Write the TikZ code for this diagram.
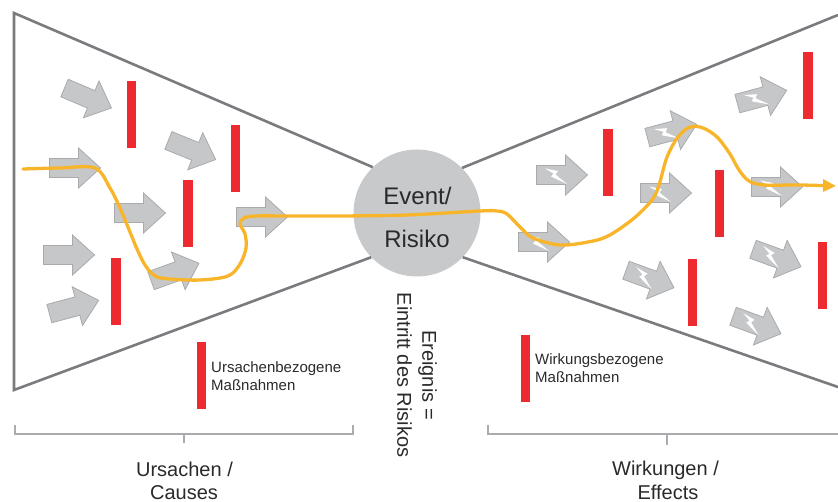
\documentclass[tikz,border=0pt]{standalone}
\usepackage{fontspec}
\setmainfont{Liberation Sans}
\usetikzlibrary{arrows.meta}
\definecolor{edgegray}{HTML}{7A7B7E}
\definecolor{arrowgray}{HTML}{C6C7C9}
\definecolor{arrowline}{HTML}{A8AAAD}
\definecolor{barred}{HTML}{EC2A2F}
\definecolor{pathyellow}{HTML}{F9B52A}
\definecolor{eventgray}{HTML}{C8C9CB}
\definecolor{txt}{HTML}{2A2A2C}
\definecolor{bracegray}{HTML}{A9ABAE}
\begin{document}
\begin{tikzpicture}[x=1pt,y=-1pt,
  bowedge/.style={draw=edgegray, line width=2.6pt, line join=miter},
  arrowbody/.style={fill=arrowgray, draw=arrowline, line width=0.8pt, line join=miter},
  redbar/.style={fill=barred, minimum width=9.5pt, minimum height=67pt, inner sep=0pt, draw=none},
  bracketline/.style={draw=bracegray, line width=1.4pt},
  riskpath/.style={draw=pathyellow, line width=3.3pt, line cap=round, line join=round},
  biglabel/.style={font=\fontsize{20}{24}\selectfont, text=txt, inner sep=0pt, anchor=base},
  eventlabel/.style={font=\fontsize{24}{28}\selectfont, text=txt, inner sep=0pt, anchor=base},
  smalllabel/.style={font=\fontsize{15}{18}\selectfont, text=txt, inner sep=0pt, anchor=base west},
  garrow/.pic={\path[arrowbody] (-25.5,-9.5) -- (3.5,-9.5) -- (3.5,-20) -- (25.5,0)
      -- (3.5,20) -- (3.5,9.5) -- (-25.5,9.5) -- cycle;},
  boltarrow/.pic={\path[arrowbody] (-25.5,-9.5) -- (3.5,-9.5) -- (3.5,-20) -- (25.5,0)
      -- (3.5,20) -- (3.5,9.5) -- (-25.5,9.5) -- cycle;
    \fill[white] (-17,-6.5) -- (-4,-4) -- (-6.5,-0.5) -- (5,9) -- (-11,1.5) -- (-8.5,-1.5) -- cycle;}
]
\useasboundingbox (0,0) rectangle (838,502);

% central event
\node[circle, fill=eventgray, minimum size=127pt, inner sep=0pt] (ev) at (417,213) {};

% bow-tie outline
\coordinate (tl) at (14,13);
\coordinate (bl) at (14,390);
\coordinate (tr) at (838,15);
\coordinate (br) at (838,387);
\draw[bowedge] (ev.134) -- (tl) -- (bl) -- (ev.224);
\draw[bowedge] (ev.45) -- (tr);
\draw[bowedge] (ev.-44) -- (br);

% causes (left)
\pic[rotate=-23] at (88,98) {garrow};
\pic[rotate=-22] at (192,150) {garrow};
\pic at (75,168) {garrow};
\pic at (140,213) {garrow};
\pic at (262,217) {garrow};
\pic at (69,255) {garrow};
\pic[rotate=15] at (74,307) {garrow};
\pic[rotate=20] at (175,272) {garrow};

% effects (right)
\pic at (562,175) {boltarrow};
\pic[rotate=15] at (672,131) {boltarrow};
\pic at (666,193) {boltarrow};
\pic[rotate=15] at (762,97) {boltarrow};
\pic at (777,187) {boltarrow};
\pic at (544,242) {boltarrow};
\pic[rotate=-20] at (650,279) {boltarrow};
\pic[rotate=-20] at (777,258) {boltarrow};
\pic[rotate=-20] at (757,325) {boltarrow};

% barriers
\node[redbar] (c1) at (131.3,114.5) {};
\node[redbar] (c2) at (235.3,158.5) {};
\node[redbar] (c3) at (188,213.5) {};
\node[redbar] (c4) at (116,291.5) {};
\node[redbar] (e1) at (608,163) {};
\node[redbar] (e2) at (719.5,203.5) {};
\node[redbar] (e3) at (808,85.5) {};
\node[redbar] (e4) at (692.5,293) {};
\node[redbar] (e5) at (822.5,275.5) {};

% scenario path
\draw[riskpath, -{Triangle[length=13pt,width=12pt]}] plot[smooth, tension=0.55] coordinates {
  (23,169) (60,168) (95,168) (110,188) (120,208) (130,232) (137,249) (145,265)
  (155,276) (170,279) (200,280) (228,276) (240,264) (246,248) (245,234) (240,224)
  (244,218) (256,216) (290,216) (340,216) (407,215) (480,211) (497,211) (507,214)
  (520,227) (533,238) (560,245) (588,242) (608,236) (633,219) (652,200) (659,185)
  (667,157) (678,137) (690,127) (703,128) (717,137) (730,154) (739,170) (749,181)
  (764,185) (800,185) (836,186)};

% event text
\node[eventlabel] (evt1) at (417.5,205) {Event/};
\node[eventlabel] (evt2) at (417,248) {Risiko};
\node[font=\fontsize{20}{25}\selectfont, text=txt, inner sep=0pt, rotate=-90, align=center]
  (def) at (417,375) {Ereignis =\\Eintritt des Risikos};

% legends
\node[redbar] (lg1) at (201.5,375.5) {};
\node[smalllabel] (lt1) at (211,372.5) {Ursachenbezogene};
\node[smalllabel] (lt2) at (211,390.5) {Maßnahmen};
\node[redbar] (lg2) at (525.5,368.5) {};
\node[smalllabel] (lt3) at (535,365) {Wirkungsbezogene};
\node[smalllabel] (lt4) at (535,383) {Maßnahmen};

% brackets
\draw[bracketline] (15,425) -- (15,434) -- (353,434) -- (353,425);
\draw[bracketline] (184,434) -- (184,443);
\draw[bracketline] (488,425) -- (488,434) -- (838,434);
\draw[bracketline] (667,434) -- (667,445);

\node[biglabel] (cl1) at (184.5,476) {Ursachen /};
\node[biglabel] (cl2) at (184,499) {Causes};
\node[biglabel] (wl1) at (665.5,475) {Wirkungen /};
\node[biglabel] (wl2) at (668,499) {Effects};
\end{tikzpicture}
\end{document}
